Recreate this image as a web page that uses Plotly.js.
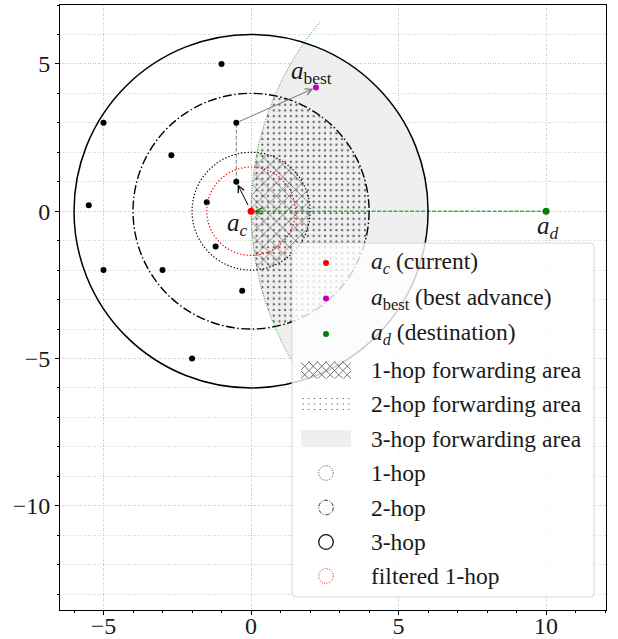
<!DOCTYPE html>
<html>
<head>
<meta charset="utf-8">
<script src="https://cdn.plot.ly/plotly-3.0.1.min.js"></script>
<style>
  html, body { margin: 0; padding: 0; background: #fff; }
  #chart { width: 618px; height: 639px; }
</style>
</head>
<body>
<div id="chart"></div>
<script>
// Neighbouring nodes scattered around the current node
const nodeX = [-1, -5, -2.7, -0.5, -0.5, -5.5, -1.5, -1.2, -5, -3, -0.3, -2];
const nodeY = [5, 3, 1.9, 3, 1, 0.2, 0.3, -1.2, -2, -2, -2.7, -5];

// Current node, best-advance node and destination
const currentNode = [0, 0];
const bestNode = [2.2, 4.2];
const destNode = [10, 0];

// Hops taken from the current node towards the best-advance node
const routeX = [0, -0.5, -0.5, 2.2];
const routeY = [0, 1, 3, 4.2];

// Radio ranges
const hopRadii = [2, 4, 6];
const filteredRadius = 1.5;

// Legend labels
const legendLabels = [
  '<i>a</i><sub><i>c</i></sub> (current)',
  '<i>a</i><sub>best</sub> (best advance)',
  '<i>a</i><sub><i>d</i></sub> (destination)',
  '1-hop forwarding area',
  '2-hop forwarding area',
  '3-hop forwarding area',
  '1-hop',
  '2-hop',
  '3-hop',
  'filtered 1-hop'
];

const FONT = 'Liberation Serif, Times New Roman, serif';
const TEXT_COLOR = '#1a1a1a';

// Distance from current node to destination: radius of the "closer to destination" disk
const dDist = Math.hypot(destNode[0] - currentNode[0], destNode[1] - currentNode[1]);

// Region of the r-disk around the current node that lies closer to the destination
function forwardingArea(r) {
  const cx = currentNode[0], cy = currentNode[1];
  const xi = r * r / (2 * dDist);
  const yi = Math.sqrt(r * r - xi * xi);
  const phi = Math.atan2(yi, xi);
  const psi = Math.atan2(yi, xi - dDist);
  const xs = [], ys = [];
  const N = 120;
  for (let i = 0; i <= N; i++) {
    const t = -phi + 2 * phi * i / N;
    xs.push(cx + r * Math.cos(t));
    ys.push(cy + r * Math.sin(t));
  }
  for (let i = 0; i <= N; i++) {
    const t = psi + (2 * Math.PI - 2 * psi) * i / N;
    xs.push(cx + dDist + dDist * Math.cos(t));
    ys.push(cy + dDist * Math.sin(t));
  }
  return { x: xs, y: ys };
}

// Arc of the destination-centred circle passing through the current node
function destinationArc(halfAngleDeg) {
  const xs = [], ys = [];
  const a0 = Math.PI - halfAngleDeg * Math.PI / 180;
  const a1 = Math.PI + halfAngleDeg * Math.PI / 180;
  for (let i = 0; i <= 200; i++) {
    const t = a0 + (a1 - a0) * i / 200;
    xs.push(destNode[0] + dDist * Math.cos(t));
    ys.push(destNode[1] + dDist * Math.sin(t));
  }
  return { x: xs, y: ys };
}

const area1 = forwardingArea(hopRadii[0]);
const area2 = forwardingArea(hopRadii[1]);
const area3 = forwardingArea(hopRadii[2]);
const arc = destinationArc(40);

const traces = [
  { x: area3.x, y: area3.y, mode: 'lines', fill: 'toself', fillcolor: '#efefef',
    line: { width: 0 }, hoverinfo: 'skip' },
  { x: area2.x, y: area2.y, mode: 'lines', fill: 'toself', fillcolor: 'rgba(0,0,0,0)',
    fillpattern: { shape: '.', fgcolor: '#666', bgcolor: 'rgba(0,0,0,0)', size: 5.7, solidity: 0.13 },
    line: { width: 0 }, hoverinfo: 'skip' },
  { x: area1.x, y: area1.y, mode: 'lines', fill: 'toself', fillcolor: 'rgba(0,0,0,0)',
    fillpattern: { shape: 'x', fgcolor: '#4a4a4a', bgcolor: 'rgba(0,0,0,0)', size: 9, solidity: 0.13 },
    line: { width: 0 }, hoverinfo: 'skip' },
  { x: arc.x, y: arc.y, mode: 'lines', line: { color: '#2ca02c', width: 1, dash: '1px,1.6px' } },
  { x: [destNode[0], currentNode[0]], y: [destNode[1], currentNode[1]], mode: 'lines',
    line: { color: 'green', width: 1, dash: '4px,1.5px' } },
  { x: routeX.slice(1, 3), y: routeY.slice(1, 3), mode: 'lines',
    line: { color: '#777', width: 1, dash: '4px,2px' } },
  { x: nodeX, y: nodeY, mode: 'markers', marker: { color: 'black', size: 6 } },
  { x: [currentNode[0]], y: [currentNode[1]], mode: 'markers', marker: { color: 'red', size: 7 } },
  { x: [bestNode[0]], y: [bestNode[1]], mode: 'markers', marker: { color: '#c000c0', size: 6 } },
  { x: [destNode[0]], y: [destNode[1]], mode: 'markers', marker: { color: 'green', size: 7 } }
];

// Range circles around the current node
const ringStyles = [
  { color: 'black', width: 1.2, dash: '1.3px,2px' },
  { color: 'black', width: 1.4, dash: '9px,2.5px,1.5px,2.5px' },
  { color: 'black', width: 1.5, dash: 'solid' }
];
const shapes = hopRadii.map((r, i) => ({
  type: 'circle', xref: 'x', yref: 'y', layer: 'above',
  x0: currentNode[0] - r, x1: currentNode[0] + r,
  y0: currentNode[1] - r, y1: currentNode[1] + r,
  line: ringStyles[i]
}));
shapes.push({
  type: 'circle', xref: 'x', yref: 'y', layer: 'above',
  x0: currentNode[0] - filteredRadius, x1: currentNode[0] + filteredRadius,
  y0: currentNode[1] - filteredRadius, y1: currentNode[1] + filteredRadius,
  line: { color: 'red', width: 1.2, dash: '1.3px,2px' }
});

// ---- Legend, drawn in page pixels converted to paper fractions ----
const M = { l: 60, r: 12, t: 5, b: 29 };
const PW = 618 - M.l - M.r, PH = 639 - M.t - M.b;
const px = p => (p - M.l) / PW;
const py = p => (M.t + PH - p) / PH;
const pt = (x, y) => px(x).toFixed(5) + ',' + py(y).toFixed(5);

const box = { x0: 292, y0: 243, x1: 594, y1: 597, r: 4 };
const boxPath = 'M' + pt(box.x0 + box.r, box.y0) +
  ' L' + pt(box.x1 - box.r, box.y0) + ' Q' + pt(box.x1, box.y0) + ' ' + pt(box.x1, box.y0 + box.r) +
  ' L' + pt(box.x1, box.y1 - box.r) + ' Q' + pt(box.x1, box.y1) + ' ' + pt(box.x1 - box.r, box.y1) +
  ' L' + pt(box.x0 + box.r, box.y1) + ' Q' + pt(box.x0, box.y1) + ' ' + pt(box.x0, box.y1 - box.r) +
  ' L' + pt(box.x0, box.y0 + box.r) + ' Q' + pt(box.x0, box.y0) + ' ' + pt(box.x0 + box.r, box.y0) + ' Z';
shapes.push({ type: 'path', xref: 'paper', yref: 'paper', layer: 'above', path: boxPath,
  fillcolor: 'rgba(255,255,255,0.8)', line: { color: 'rgba(204,204,204,0.8)', width: 1 } });

const rowY = [263, 298.5, 334, 370, 404, 438.5, 473, 507.5, 542, 576];
const swatchCx = 326, swatchX0 = 301, swatchX1 = 351, swatchH = 17;
const textX = 369;

// marker swatches
const markerColors = ['red', '#c000c0', 'green'];
markerColors.forEach((c, i) => {
  const rr = 3;
  shapes.push({ type: 'circle', xref: 'paper', yref: 'paper', layer: 'above',
    x0: px(swatchCx - rr), x1: px(swatchCx + rr), y0: py(rowY[i] + rr), y1: py(rowY[i] - rr),
    fillcolor: c, line: { width: 0 } });
});

// cross-hatch swatch
(function () {
  const x0 = swatchX0, x1 = swatchX1, y0 = rowY[3] - swatchH / 2, y1 = rowY[3] + swatchH / 2;
  const s = 8.5;
  let p = '';
  for (let c = (y0 - x1); c <= (y1 - x0); c += s) {
    const xa = Math.max(x0, y0 - c), xb = Math.min(x1, y1 - c);
    if (xb > xa) p += 'M' + pt(xa, xa + c) + ' L' + pt(xb, xb + c) + ' ';
  }
  for (let c = (x0 + y0); c <= (x1 + y1); c += s) {
    const xa = Math.max(x0, c - y1), xb = Math.min(x1, c - y0);
    if (xb > xa) p += 'M' + pt(xa, c - xa) + ' L' + pt(xb, c - xb) + ' ';
  }
  shapes.push({ type: 'path', xref: 'paper', yref: 'paper', layer: 'above', path: p,
    line: { color: '#666', width: 0.9 } });
})();

// dotted swatch
(function () {
  const y0 = rowY[4] - swatchH / 2;
  let p = '';
  const d = 0.6;
  for (let yy = y0 + 3; yy < y0 + swatchH; yy += 5.5) {
    for (let xx = swatchX0 + 2; xx < swatchX1; xx += 5.75) {
      p += 'M' + pt(xx - d, yy - d) + ' L' + pt(xx + d, yy - d) + ' L' + pt(xx + d, yy + d) +
           ' L' + pt(xx - d, yy + d) + ' Z ';
    }
  }
  shapes.push({ type: 'path', xref: 'paper', yref: 'paper', layer: 'above', path: p,
    fillcolor: '#555', line: { width: 0 } });
})();

// flat grey swatch
shapes.push({ type: 'rect', xref: 'paper', yref: 'paper', layer: 'above',
  x0: px(swatchX0), x1: px(swatchX1), y0: py(rowY[5] + swatchH / 2), y1: py(rowY[5] - swatchH / 2),
  fillcolor: '#efefef', line: { width: 0 } });

// ring swatches
const ringSwatchStyles = [
  { color: '#333', width: 1, dash: '1px,1.5px' },
  { color: '#333', width: 1, dash: '4px,1.5px,1px,1.5px' },
  { color: '#111', width: 1.3, dash: 'solid' },
  { color: 'red', width: 1, dash: '1px,1.5px' }
];
ringSwatchStyles.forEach((st, i) => {
  const rr = 7.3, cy = rowY[6 + i];
  shapes.push({ type: 'circle', xref: 'paper', yref: 'paper', layer: 'above',
    x0: px(swatchCx - rr), x1: px(swatchCx + rr), y0: py(cy + rr), y1: py(cy - rr),
    line: st });
});

const annotations = legendLabels.map((t, i) => ({
  xref: 'paper', yref: 'paper', x: px(textX), y: py(rowY[i]), xanchor: 'left', yanchor: 'middle',
  text: t, showarrow: false, font: { family: FONT, size: 23.5, color: TEXT_COLOR }
}));

// Node labels
annotations.push(
  { x: currentNode[0], y: currentNode[1], text: '<i>a</i><sub><i>c</i></sub>', showarrow: false,
    xshift: -14, yshift: -13, font: { family: FONT, size: 25, color: TEXT_COLOR } },
  { x: bestNode[0], y: bestNode[1], text: '<i>a</i><sub>best</sub>', showarrow: false,
    xshift: -4, yshift: 15, font: { family: FONT, size: 25, color: TEXT_COLOR } },
  { x: destNode[0], y: destNode[1], text: '<i>a</i><sub><i>d</i></sub>', showarrow: false,
    xshift: 2, yshift: -16, font: { family: FONT, size: 25, color: TEXT_COLOR } }
);

// Route arrows
annotations.push(
  { x: routeX[1], y: routeY[1], ax: routeX[0], ay: routeY[0], axref: 'x', ayref: 'y',
    showarrow: true, arrowhead: 5, arrowsize: 1.3, arrowwidth: 1, arrowcolor: 'black',
    standoff: 3, text: ' ' },
  { x: routeX[2], y: routeY[2], ax: 0, ay: 12,
    showarrow: true, arrowhead: 5, arrowsize: 1.3, arrowwidth: 1, arrowcolor: '#777',
    standoff: 3, text: ' ' },
  { x: routeX[3], y: routeY[3], ax: routeX[2], ay: routeY[2], axref: 'x', ayref: 'y',
    showarrow: true, arrowhead: 5, arrowsize: 1.3, arrowwidth: 1, arrowcolor: '#777',
    standoff: 3, text: ' ' },
  { x: currentNode[0], y: currentNode[1], ax: 14, ay: 0,
    showarrow: true, arrowhead: 5, arrowsize: 1.3, arrowwidth: 1, arrowcolor: 'green',
    standoff: 3, text: ' ' }
);

const axisCommon = {
  showline: true, linecolor: 'black', linewidth: 1, mirror: true,
  ticks: 'outside', ticklen: 4, tickwidth: 1, tickcolor: 'black',
  zeroline: false, showgrid: true, gridcolor: '#c4c4c4', griddash: '1px,1.5px', gridwidth: 1,
  tickfont: { family: FONT, size: 24, color: TEXT_COLOR },
  automargin: false, fixedrange: true
};

const layout = {
  width: 618, height: 639,
  margin: M,
  paper_bgcolor: 'white', plot_bgcolor: 'white',
  showlegend: false,
  xaxis: Object.assign({}, axisCommon, {
    range: [-6.475, 12.03], tick0: 0, dtick: 5, ticklabelstandoff: -10,
    minor: { dtick: 1, tick0: 0, ticks: 'outside', ticklen: 2, tickcolor: 'black', showgrid: false }
  }),
  yaxis: Object.assign({}, axisCommon, {
    range: [-13.54, 7.0], tick0: 0, dtick: 5, ticklabelstandoff: 0,
    minor: { dtick: 1, tick0: 0, ticks: 'outside', ticklen: 2, tickcolor: 'black',
             showgrid: true, gridcolor: '#d4d4d4', griddash: '1px,1.5px', gridwidth: 1 }
  }),
  shapes: shapes,
  annotations: annotations
};

Plotly.newPlot('chart', traces, layout, { staticPlot: true, displayModeBar: false });
</script>
</body>
</html>
